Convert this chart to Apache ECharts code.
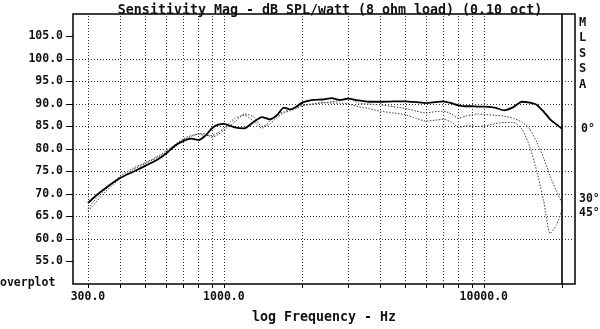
<!DOCTYPE html>
<html>
<head>
<meta charset="utf-8">
<script src="https://cdn.jsdelivr.net/npm/echarts@6/dist/echarts.min.js"></script>
<style>
  html, body { margin: 0; padding: 0; background: #fff; }
  #chart { width: 600px; height: 329px; }
</style>
</head>
<body>
<div id="chart"></div>
<script>
// Frequency points (Hz) for the 0.10-octave smoothed sensitivity curves
const freqs = [300, 320, 350, 400, 450, 500, 550, 600, 650, 700, 750, 800, 850, 900, 950,
  1000, 1100, 1200, 1300, 1400, 1500, 1600, 1700, 1800, 1900, 2000, 2200, 2400, 2600, 2800,
  3000, 3300, 3600, 4000, 4500, 5000, 5500, 6000, 6500, 7000, 7500, 8000, 8500, 9000, 9500,
  10000, 11000, 12000, 13000, 14000, 15000, 16000, 17000, 18000, 19000, 20000];

// dB SPL/watt, on axis (0 degrees)
const spl0 = [68.0, 69.5, 71.3, 73.6, 75.0, 76.3, 77.5, 79.0, 80.8, 81.8, 82.3, 82.0, 83.0, 84.6, 85.4,
  85.6, 84.8, 84.6, 86.0, 87.1, 86.6, 87.5, 89.2, 88.8, 89.4, 90.3, 90.9, 91.0, 91.3, 90.9,
  91.2, 90.8, 90.5, 90.5, 90.6, 90.6, 90.4, 90.2, 90.4, 90.6, 90.2, 89.7, 89.5, 89.5, 89.4,
  89.4, 89.2, 88.6, 89.3, 90.5, 90.3, 89.8, 88.3, 86.6, 85.5, 84.5];

// 30 degrees off axis
const spl30 = [66.8, 68.8, 71.0, 74.0, 75.8, 77.0, 78.2, 79.6, 81.0, 82.3, 83.0, 83.3, 83.0, 83.0, 83.6,
  84.6, 86.8, 87.5, 86.2, 84.6, 86.2, 87.6, 88.3, 88.8, 89.3, 89.8, 90.0, 90.2, 90.5, 90.8,
  91.4, 90.2, 90.0, 89.8, 89.4, 89.0, 88.4, 88.0, 88.3, 88.4, 87.8, 86.8, 87.3, 87.6, 87.8,
  87.7, 87.5, 87.3, 86.8, 86.0, 84.5, 81.5, 78.0, 74.0, 70.8, 68.0];

// 45 degrees off axis
const spl45 = [66.2, 68.0, 70.5, 73.5, 75.5, 76.8, 78.0, 79.2, 80.5, 82.0, 82.8, 83.4, 83.4, 82.6, 83.2,
  84.2, 86.0, 87.8, 87.2, 85.0, 85.5, 87.0, 88.0, 88.5, 89.0, 89.6, 90.0, 90.4, 90.2, 90.2,
  90.0, 89.4, 89.0, 88.4, 88.0, 87.6, 86.8, 86.2, 86.4, 86.6, 86.0, 84.8, 85.1, 85.1, 85.0,
  85.1, 85.6, 85.9, 85.9, 84.5, 80.7, 75.0, 68.5, 61.2, 63.0, 66.5];

// Vertical grid positions and labelled frequencies
const gridFreqs = [300, 400, 500, 600, 700, 800, 900, 1000, 2000, 3000, 4000, 5000,
  6000, 7000, 8000, 9000, 10000];
const edgeFreq = 20000;
const xLabelFreqs = [300, 1000, 10000];
const yTicks = [55, 60, 65, 70, 75, 80, 85, 90, 95, 100, 105];

const MONO = '"DejaVu Sans Mono", "Liberation Mono", monospace';
const pairs = arr => freqs.map((f, i) => [f, arr[i]]);

const chart = echarts.init(document.getElementById('chart'), null, { renderer: 'canvas' });

const dotted = { type: [1, 2], color: '#333', width: 1 };

chart.setOption({
  animation: false,
  backgroundColor: '#fff',
  title: {
    text: 'Sensitivity Mag - dB SPL/watt (8 ohm load) (0.10 oct)',
    left: 325, top: -1, textAlign: 'center',
    textStyle: { fontFamily: MONO, fontSize: 13.3, fontWeight: 'bold', color: '#111' }
  },
  grid: {
    left: 73, right: 25, top: 14, bottom: 42,
    show: true, borderColor: '#000', borderWidth: 1.5, backgroundColor: 'transparent'
  },
  xAxis: {
    type: 'log', logBase: 10, min: 262.7, max: 22438,
    name: 'log Frequency - Hz', nameLocation: 'middle', nameGap: 27,
    nameTextStyle: { fontFamily: MONO, fontSize: 13.3, fontWeight: 'bold', color: '#111' },
    axisLine: { show: false },
    axisTick: { show: true, length: 4, customValues: gridFreqs.concat([edgeFreq]),
      lineStyle: { color: '#000', width: 1 } },
    axisLabel: { customValues: xLabelFreqs, margin: 7,
      fontFamily: MONO, fontSize: 11.5, fontWeight: 'bold', color: '#111',
      formatter: v => Number(v).toFixed(1) },
    splitLine: { show: false },
    minorTick: { show: false }
  },
  yAxis: {
    type: 'value', min: 50, max: 110, interval: 5,
    axisLine: { show: false },
    axisTick: { show: true, length: 7, customValues: yTicks, lineStyle: { color: '#000', width: 1 } },
    axisLabel: { customValues: yTicks, margin: 10,
      fontFamily: MONO, fontSize: 11.5, fontWeight: 'bold', color: '#111',
      formatter: v => (v <= 50 || v >= 110) ? '' : Number(v).toFixed(1) },
    splitLine: { show: true, showMinLine: false, showMaxLine: false, lineStyle: dotted }
  },
  series: [
    {
      name: '0', type: 'line', data: pairs(spl0), showSymbol: false, smooth: 0.2,
      lineStyle: { color: '#000', width: 1.8 }, z: 5,
      markLine: {
        silent: true, symbol: 'none', label: { show: false }, animation: false,
        lineStyle: dotted,
        data: gridFreqs.map(f => ({ xAxis: f })).concat([
          { xAxis: edgeFreq, lineStyle: { type: 'solid', color: '#000', width: 1.6 } }
        ])
      }
    },
    {
      name: '30', type: 'line', data: pairs(spl30), showSymbol: false, smooth: 0.2,
      lineStyle: { color: '#444', width: 1, type: [1.5, 1.5] }, z: 4
    },
    {
      name: '45', type: 'line', data: pairs(spl45), showSymbol: false, smooth: 0.2,
      lineStyle: { color: '#444', width: 1, type: [1.5, 1.5] }, z: 4
    }
  ],
  graphic: [
    { type: 'text', left: 0, top: 277, style: { text: 'overplot', font: 'bold 11.5px ' + MONO, fill: '#111' } },
    { type: 'text', left: 579, top: 15, style: { text: 'M\nL\nS\nS\nA', font: 'bold 12px ' + MONO, fill: '#111', lineHeight: 15.5 } },
    { type: 'text', left: 581, top: 123, style: { text: '0°', font: 'bold 11.5px ' + MONO, fill: '#111' } },
    { type: 'text', left: 579, top: 193, style: { text: '30°', font: 'bold 11.5px ' + MONO, fill: '#111' } },
    { type: 'text', left: 579, top: 207, style: { text: '45°', font: 'bold 11.5px ' + MONO, fill: '#111' } }
  ]
});
</script>
</body>
</html>
